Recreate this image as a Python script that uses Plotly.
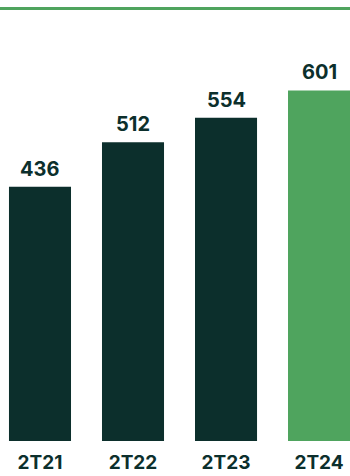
import plotly.graph_objects as go

categories = ["2T21", "2T22", "2T23", "2T24"]
values = [436, 512, 554, 601]
labels = ["436", "512", "554", "601"]

DARK = "#0c2f2c"
GREEN = "#4fa45e"
colors = [DARK, DARK, DARK, GREEN]
FONT = "Inter"

fig = go.Figure()
fig.add_trace(go.Bar(
    x=list(range(len(categories))),
    y=values,
    marker=dict(color=colors, line=dict(width=0)),
    width=0.667,
    hoverinfo="skip",
))

for i, (v, t) in enumerate(zip(values, labels)):
    fig.add_annotation(
        x=i, y=v, text="<b>" + t + "</b>", showarrow=False,
        yanchor="bottom", yshift=4,
        font=dict(family=FONT, size=20, color=DARK),
    )

fig.add_shape(
    type="rect", xref="paper", yref="paper",
    x0=0, x1=1, ysizemode="pixel", yanchor=1, y0=-10, y1=-7,
    fillcolor=GREEN, line=dict(width=0), layer="above",
)

fig.update_layout(
    width=350, height=476,
    margin=dict(l=0, r=0, t=0, b=35, autoexpand=False),
    paper_bgcolor="white", plot_bgcolor="white",
    showlegend=False,
    xaxis=dict(
        range=[-0.43, 3.333],
        tickmode="array",
        tickvals=list(range(len(categories))),
        ticktext=["<b>" + c + "</b>" for c in categories],
        tickfont=dict(family=FONT, size=19, color=DARK),
        ticks="outside", ticklen=4, tickcolor="rgba(0,0,0,0)",
        showgrid=False, zeroline=False, showline=False,
        automargin=False,
        fixedrange=True,
    ),
    yaxis=dict(
        range=[0, 756],
        visible=False, showgrid=False, zeroline=False,
        automargin=False,
        fixedrange=True,
    ),
)

fig.write_html(
    "out.html",
    config={"displayModeBar": False},
    post_script="document.body.style.margin='0';document.body.style.padding='0';document.body.style.overflow='hidden';",
)
